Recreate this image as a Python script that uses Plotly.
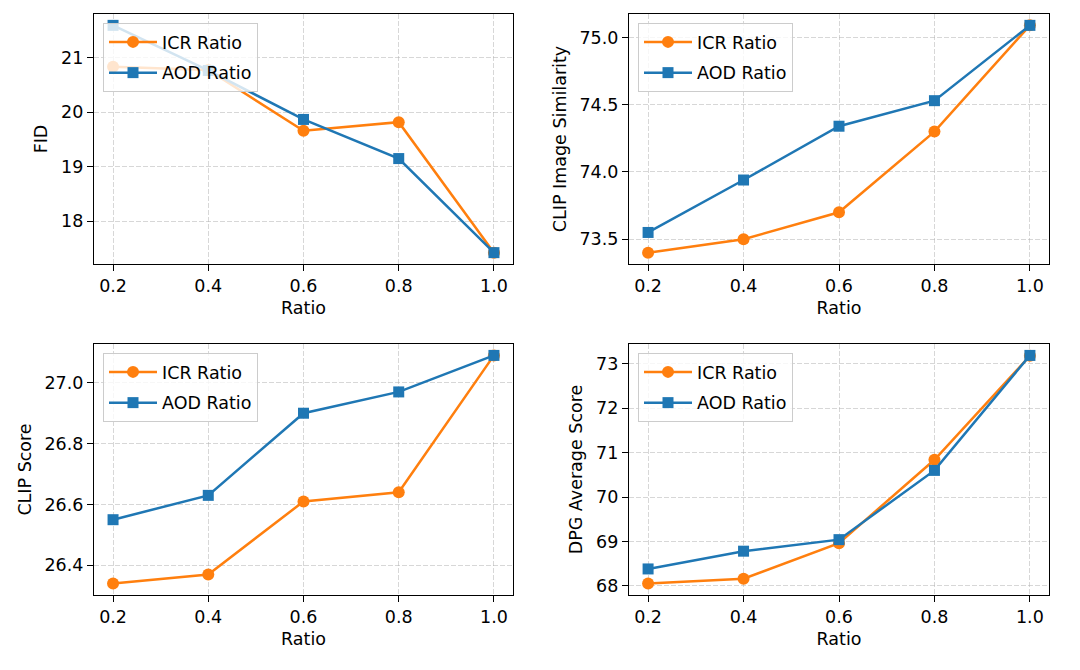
import plotly.graph_objects as go

ratios = [0.2, 0.4, 0.6, 0.8, 1.0]
tick_labels = ["0.2", "0.4", "0.6", "0.8", "1.0"]

fid_icr = [20.84, 20.78, 19.66, 19.82, 17.42]
fid_aod = [21.60, 20.77, 19.87, 19.15, 17.42]

clipimg_icr = [73.40, 73.50, 73.70, 74.30, 75.09]
clipimg_aod = [73.55, 73.94, 74.34, 74.53, 75.09]

clipscore_icr = [26.34, 26.37, 26.61, 26.64, 27.09]
clipscore_aod = [26.55, 26.63, 26.90, 26.97, 27.09]

dpg_icr = [68.05, 68.16, 68.96, 70.84, 73.18]
dpg_aod = [68.38, 68.78, 69.04, 70.60, 73.19]

panels = [
    ("FID", fid_icr, fid_aod, [18, 19, 20, 21], ["18", "19", "20", "21"]),
    ("CLIP Image Similarity", clipimg_icr, clipimg_aod,
     [73.5, 74.0, 74.5, 75.0], ["73.5", "74.0", "74.5", "75.0"]),
    ("CLIP Score", clipscore_icr, clipscore_aod,
     [26.4, 26.6, 26.8, 27.0], ["26.4", "26.6", "26.8", "27.0"]),
    ("DPG Average Score", dpg_icr, dpg_aod,
     [68, 69, 70, 71, 72, 73], ["68", "69", "70", "71", "72", "73"]),
]

W, H = 1080, 670
# pixel boxes (left, right, top, bottom)
boxes = [(94, 513, 14, 264), (629, 1049, 14, 264),
         (94, 513, 344, 595), (629, 1049, 344, 595)]

ORANGE = "#ff7f0e"
BLUE = "#1f77b4"
FONT = dict(family="DejaVu Sans", size=17.5, color="black")

fig = go.Figure()
layout = dict(
    width=W, height=H,
    margin=dict(l=0, r=0, t=0, b=0),
    paper_bgcolor="white", plot_bgcolor="white",
    font=FONT,
)

for i, (ylabel, icr, aod, yt, ytl) in enumerate(panels):
    n = i + 1
    sfx = "" if n == 1 else str(n)
    xa, ya = "x" + sfx, "y" + sfx
    lg = "legend" + sfx
    l, r, t, b = boxes[i]
    fig.add_trace(go.Scatter(
        x=ratios, y=icr, name="ICR Ratio", mode="lines+markers",
        line=dict(color=ORANGE, width=2.5),
        marker=dict(symbol="circle", size=12, color=ORANGE),
        xaxis=xa, yaxis=ya, legend=lg, legendgroup="icr" + sfx))
    fig.add_trace(go.Scatter(
        x=ratios, y=aod, name="AOD Ratio", mode="lines+markers",
        line=dict(color=BLUE, width=2.5),
        marker=dict(symbol="square", size=11, color=BLUE),
        xaxis=xa, yaxis=ya, legend=lg, legendgroup="aod" + sfx))
    vals = icr + aod
    lo, hi = min(vals), max(vals)
    pad = (hi - lo) * 0.05
    common = dict(
        showline=True, linecolor="black", linewidth=1.2, mirror=True,
        ticks="outside", ticklen=6, tickwidth=1.2, tickcolor="black",
        showgrid=True, gridcolor="rgba(176,176,176,0.5)", gridwidth=1,
        griddash="5px,2px", zeroline=False, tickfont=FONT,
    )
    layout["xaxis" + sfx] = dict(
        common, domain=[l / W, r / W], anchor=ya,
        range=[0.16, 1.04], tickvals=ratios, ticktext=tick_labels,
        title=dict(text="Ratio", font=FONT, standoff=6),
    )
    layout["yaxis" + sfx] = dict(
        common, domain=[1 - b / H, 1 - t / H], anchor=xa,
        range=[lo - pad, hi + pad], tickvals=yt, ticktext=ytl,
        title=dict(text=ylabel, font=FONT, standoff=8),
    )
    layout[lg] = dict(
        x=(l + 9) / W, y=1 - (t + 9) / H, xanchor="left", yanchor="top",
        bgcolor="rgba(255,255,255,0.8)", bordercolor="#cccccc", borderwidth=1,
        font=FONT, itemwidth=48, tracegroupgap=5,
    )

fig.update_layout(**layout)
fig.write_html("out.html", config={"displayModeBar": False},
               post_script="document.body.style.margin='0';")
